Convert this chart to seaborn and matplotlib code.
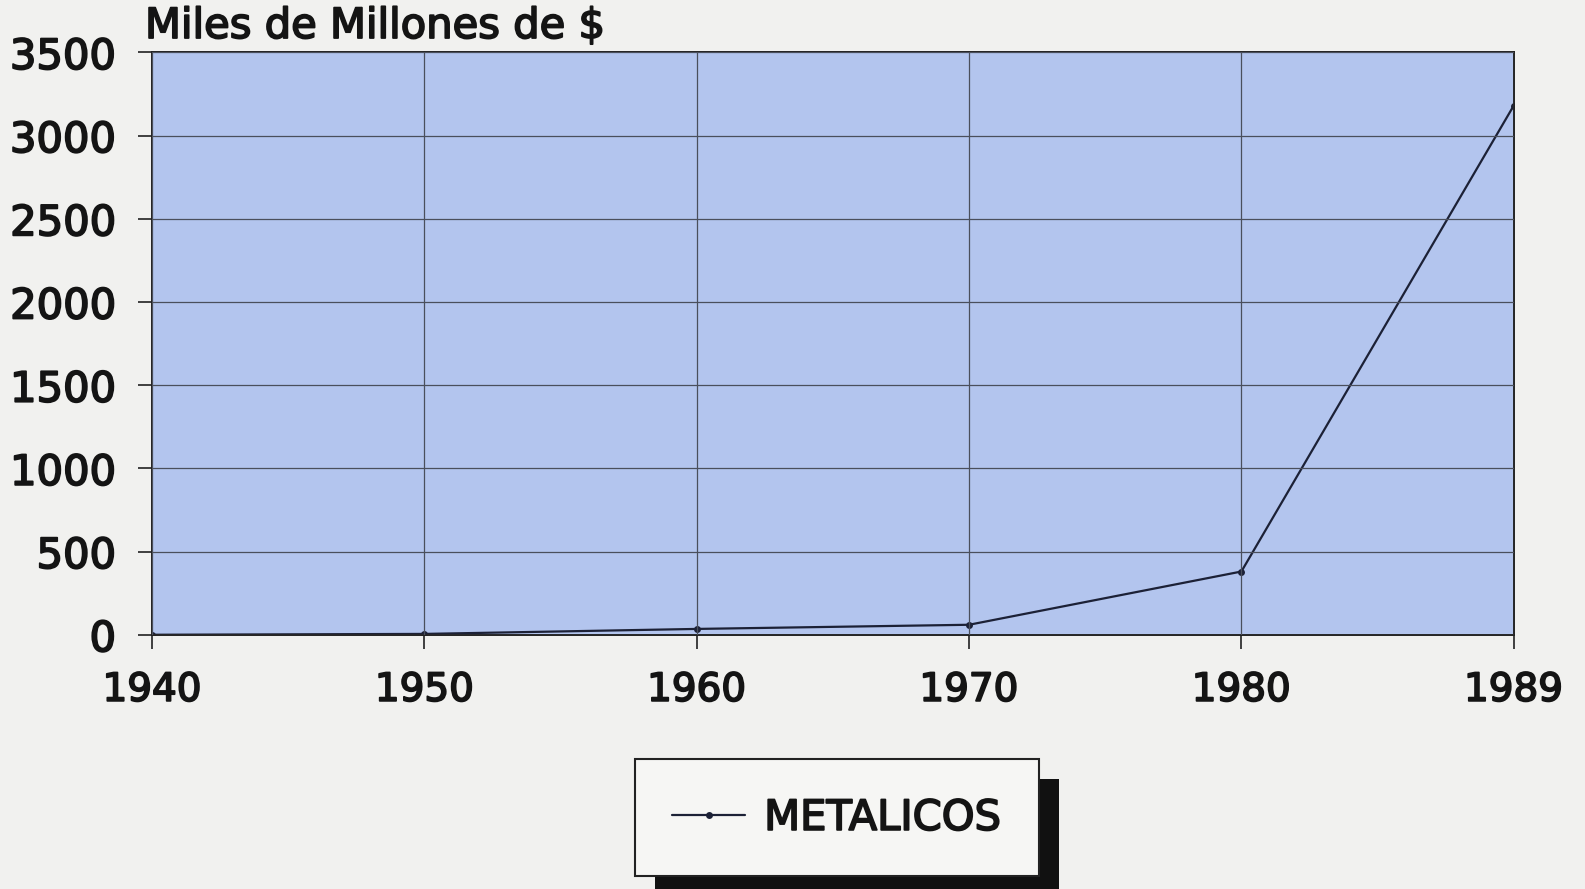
import matplotlib
matplotlib.use("Agg")
import matplotlib.pyplot as plt
import matplotlib.patches as mpatches
import matplotlib.patheffects as pe
import seaborn as sns

# values (miles de millones de $)
years = ["1940", "1950", "1960", "1970", "1980", "1989"]
metalicos = [0, 5, 35, 60, 380, 3180]
y_ticks = [0, 500, 1000, 1500, 2000, 2500, 3000, 3500]

sns.set_style("ticks")
plt.rcParams["font.family"] = ["DejaVu Sans"]

paper = "#f1f1ef"
ink = "#141414"
thick = [pe.withStroke(linewidth=1.3, foreground=ink)]

fig = plt.figure(figsize=(15.85, 8.89), dpi=100, facecolor=paper)
ax = fig.add_axes([0.096, 0.286, 0.859, 0.655])
ax.set_facecolor("#b3c5ee")

sns.lineplot(x=years, y=metalicos, ax=ax, color="#1c2136", linewidth=1.6,
             marker="o", markersize=5, markeredgewidth=0, label="METALICOS",
             legend=False)

ax.set_xlim(0, len(years) - 1)
ax.set_ylim(0, 3500)
ax.set_yticks(y_ticks)
ax.set_xticks(range(len(years)))
ax.set_xticklabels(years)
ax.grid(True, color="#4a4f5c", linewidth=0.9)
ax.set_axisbelow(False)
for s in ax.spines.values():
    s.set_visible(True)
    s.set_color("#222")
    s.set_linewidth(1.4)
ax.tick_params(axis="both", labelsize=28, colors="#222", labelcolor=ink,
               length=10, width=1.2, direction="out")
ax.tick_params(axis="y", pad=16, labelsize=30)
ax.tick_params(axis="x", pad=16)
for lbl in ax.get_xticklabels() + ax.get_yticklabels():
    lbl.set_path_effects(thick)
ax.set_xlabel("")
ax.set_ylabel("")

fig.text(145 / 1585, 1 - 38 / 889, "Miles de Millones de $", fontsize=30,
         color=ink, ha="left", va="baseline", path_effects=thick)

handles = ax.get_lines()[:1]
leg = fig.legend(handles, ["METALICOS"], loc="center",
                 bbox_to_anchor=(0.528, 0.080), frameon=True, fontsize=30,
                 fancybox=False, borderpad=0.9, handlelength=1.75,
                 handletextpad=0.45, labelcolor=ink)
for t in leg.get_texts():
    t.set_path_effects(thick)
leg.get_frame().set_edgecolor("#222")
leg.get_frame().set_linewidth(1.5)
leg.get_frame().set_facecolor("#f6f6f4")
leg.get_frame().set_alpha(1)
leg.set_zorder(6)

# drop shadow behind the legend box
fig.canvas.draw()
bb = leg.get_window_extent().transformed(fig.transFigure.inverted())
dx, dy = 20 / 1585, 20 / 889
shadow = mpatches.Rectangle((bb.x0 + dx, bb.y0 - dy), bb.width, bb.height,
                            transform=fig.transFigure, facecolor="#111",
                            edgecolor="none", zorder=5)
fig.add_artist(shadow)

fig.savefig("out.png", dpi=100, facecolor=paper)
